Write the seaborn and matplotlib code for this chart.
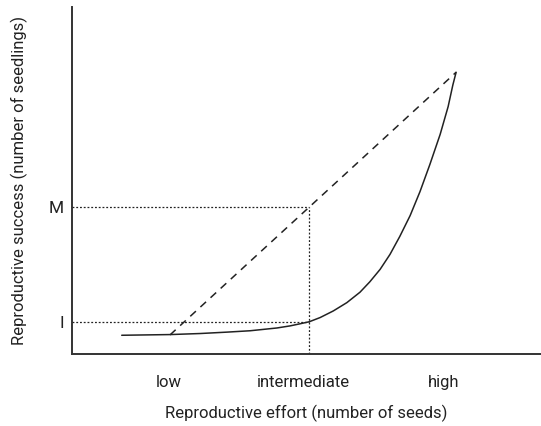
import matplotlib
matplotlib.use("Agg")
from matplotlib import pyplot as plt
import seaborn as sns
import pandas as pd

# effort / success (axes run 0..100 both ways)
effort = [10.6, 20.9, 27.3, 33.0, 38.0, 43.7, 46.5, 48.6, 50.6, 52.9, 55.7,
          58.6, 61.4, 63.5, 65.7, 67.8, 69.9, 72.1, 74.2, 76.3, 78.5, 80.2,
          81.2, 81.9]
success = [5.4, 5.6, 5.9, 6.3, 6.7, 7.5, 8.1, 8.7, 9.3, 10.5, 12.4,
           14.8, 17.8, 20.8, 24.4, 28.7, 33.9, 39.9, 46.8, 54.6, 63.3, 71.3,
           77.5, 81.2]

# straight dashed comparison line
line_effort = [20.9, 81.9]
line_success = [5.5, 81.2]

# the two marked levels at intermediate effort
mid_effort = 50.6
level_M = 42.3
level_I = 9.3

tick_pos = [20.7, 49.3, 79.3]
tick_labels = ['low', 'intermediate', 'high']

sns.set_style('white')
plt.rcParams['font.family'] = ['Roboto', 'DejaVu Sans']

fig = plt.figure(figsize=(5.41, 4.26), dpi=100)
ax = fig.add_axes([72 / 541, 72 / 426, 469 / 541, 347 / 426])

ink = '#222222'
curve = pd.DataFrame({'effort': effort, 'success': success})
sns.lineplot(data=curve, x='effort', y='success', ax=ax, color=ink, lw=1.1,
             sort=False)
sns.lineplot(x=line_effort, y=line_success, ax=ax, color=ink, lw=1.1,
             dashes=False, linestyle=(0, (5, 4)))

ax.plot([0, mid_effort], [level_M, level_M], color=ink, lw=0.9, ls=(0, (1.5, 1.5)))
ax.plot([0, mid_effort], [level_I, level_I], color=ink, lw=0.9, ls=(0, (1.5, 1.5)))
ax.plot([mid_effort, mid_effort], [0, level_M], color=ink, lw=0.9, ls=(0, (1.5, 1.5)))

ax.set_xlim(0, 100)
ax.set_ylim(0, 100)
ax.set_xticks(tick_pos)
ax.set_xticklabels(tick_labels)
ax.set_yticks([level_I, level_M])
ax.set_yticklabels(['I', 'M'])
ax.tick_params(axis='x', length=0, pad=15, labelsize=12, colors=ink)
ax.tick_params(axis='y', length=0, pad=6, labelsize=12.5, colors=ink)

sns.despine(ax=ax)
for s in ['left', 'bottom']:
    ax.spines[s].set_color('#333333')
    ax.spines[s].set_linewidth(1.4)

ax.set_xlabel('Reproductive effort (number of seeds)', fontsize=12,
              color=ink, labelpad=11)
ax.set_ylabel('Reproductive success (number of seedlings)', fontsize=12,
              color=ink, labelpad=15)

plt.savefig('out.png', dpi=100)
